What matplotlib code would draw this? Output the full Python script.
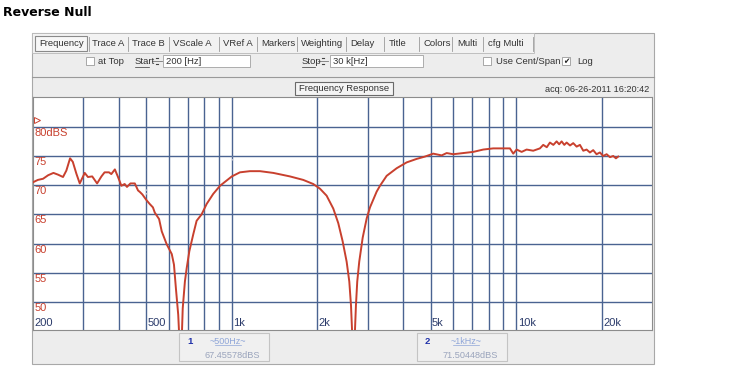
import matplotlib.pyplot as plt
from matplotlib.patches import Rectangle

# frequency response (Hz, dBS)
freq = [200, 208, 217, 226, 236, 245, 255, 262, 270, 276, 284, 292, 304, 312,
        323, 336, 348, 357, 370, 377, 388, 398, 409, 420, 428, 440, 456, 468,
        476, 485, 500, 514, 528, 536, 555, 567, 590, 615, 626, 636, 648, 655,
        660, 666, 672, 684, 694, 709, 732, 752, 783, 816, 860, 909, 959, 1000,
        1068, 1158, 1256, 1399, 1601, 1783, 1933, 2041, 2154, 2273, 2367, 2452,
        2533, 2588, 2624, 2645, 2677, 2709, 2731, 2760, 2805, 2884, 2979, 3060,
        3230, 3318, 3502, 3797, 4117, 4464, 4776, 5106, 5466, 5692, 6003, 6507,
        7059, 7653, 8297, 8998, 9499, 9757, 10028, 10443, 10874, 11470, 12108,
        12438, 12800, 13130, 13500, 13862, 14150, 14436, 14750, 15032, 15450,
        15856, 16300, 16738, 17200, 17670, 18150, 18638, 19150, 19680, 20200,
        20780, 21350, 21920, 22400, 22820]
level = [70.5, 70.9, 71.1, 71.7, 72.1, 71.8, 71.4, 72.5, 74.6, 74.0, 72.0, 70.3,
         72.1, 71.4, 71.5, 70.3, 71.5, 72.2, 72.2, 71.9, 72.7, 71.4, 69.9, 70.2,
         69.7, 70.3, 70.3, 69.1, 68.8, 68.4, 67.5, 66.8, 66.2, 65.3, 64.2, 62.1,
         59.9, 58.2, 56.4, 52.3, 47.8, 43.0, 36.0, 43.0, 48.9, 53.5, 55.8, 58.7,
         61.6, 63.9, 65.0, 66.8, 68.5, 69.9, 70.8, 71.5, 72.2, 72.4, 72.4, 72.1,
         71.5, 70.9, 70.2, 69.4, 68.2, 66.0, 63.5, 60.4, 56.9, 53.5, 49.4, 45.4,
         36.0, 45.0, 49.4, 53.5, 56.9, 61.0, 64.3, 66.2, 68.9, 69.9, 71.6, 72.9,
         73.9, 74.5, 74.9, 75.4, 75.1, 75.5, 75.3, 75.5, 75.7, 76.1, 76.3, 76.3,
         76.3, 75.4, 76.1, 75.7, 76.1, 75.9, 76.3, 76.9, 76.5, 77.3, 76.9, 77.5,
         77.0, 77.5, 76.9, 77.3, 76.8, 77.2, 76.6, 76.9, 75.9, 76.1, 75.6, 76.0,
         75.3, 75.6, 75.0, 75.3, 74.8, 75.0, 74.6, 74.9]

y_grid = [50, 55, 60, 65, 70, 75, 80]
y_labels = ['50', '55', '60', '65', '70', '75', '80dBS']
x_grid = [300, 400, 500, 600, 700, 800, 900, 1000, 2000, 3000, 4000, 5000,
          6000, 7000, 8000, 9000, 10000, 20000]
x_ticks = [200, 500, 1000, 2000, 5000, 10000, 20000]
x_labels = ['200', '500', '1k', '2k', '5k', '10k', '20k']

tabs = ['Trace A', 'Trace B', 'VScale A', 'VRef A', 'Markers', 'Weighting',
        'Delay', 'Title', 'Colors', 'Multi', 'cfg Multi']
tab_x = [92, 132, 173, 223, 261, 301, 350, 389, 424, 457, 488]
sep_x = [89, 128, 169, 219, 257, 297, 346, 384, 419, 452, 483, 533]

marker_ids = ['1', '2']
marker_freq = ['~500Hz~', '~1kHz~']
marker_vals = ['67.45578dBS', '71.50448dBS']

RED = '#c8402e'
GRID = '#4a6391'
FONT = 'Liberation Sans'

fig = plt.figure(figsize=(7.48, 3.83), dpi=100)

# pixel-coordinate layer for the window chrome
ui = fig.add_axes([0, 0, 1, 1])
ui.set_xlim(0, 748)
ui.set_ylim(383, 0)
ui.axis('off')

ui.text(3, 13, 'Reverse Null', fontsize=9, fontweight='bold', va='center',
        family='DejaVu Sans')

ui.add_patch(Rectangle((32, 33), 622, 331, facecolor='#ededed',
                       edgecolor='#a8a8a8', lw=0.8))
ui.add_patch(Rectangle((32, 33), 502, 20, facecolor='#f2f2f2',
                       edgecolor='#b8b8b8', lw=0.6))
ui.add_patch(Rectangle((35, 36), 52, 15, facecolor='#f7f7f7',
                       edgecolor='#8a8a8a', lw=0.8))
ui.text(39, 44, 'Frequency', fontsize=6.8, va='center', family=FONT, color='#333333')
for t, x in zip(tabs, tab_x):
    ui.text(x, 44, t, fontsize=6.8, va='center', family=FONT, color='#333333')
for x in sep_x:
    ui.plot([x, x], [37, 51], color='#9a9a9a', lw=0.6)

# second row of controls
ui.add_patch(Rectangle((86, 57), 8, 8, facecolor='white', edgecolor='#9a9a9a', lw=0.6))
ui.text(98, 62, 'at Top', fontsize=6.8, va='center', family=FONT, color='#333333')
ui.text(135, 62, 'Start', fontsize=6.8, va='center', family=FONT, color='#333333')
ui.plot([135, 149], [66.5, 66.5], color='#333333', lw=0.5)
ui.add_patch(Rectangle((163, 55), 87, 12, facecolor='white', edgecolor='#a0a0a0', lw=0.6))
ui.text(166, 61.5, '200 [Hz]', fontsize=6.8, va='center', family=FONT, color='#333333')
ui.text(302, 62, 'Stop', fontsize=6.8, va='center', family=FONT, color='#333333')
ui.plot([302, 315], [66.5, 66.5], color='#333333', lw=0.5)
for sx in [152, 318]:
    ui.plot([sx, sx + 10], [61, 61], color='#777777', lw=0.6)
    ui.plot([sx + 4, sx + 6], [58, 58], color='#444444', lw=0.8)
    ui.plot([sx + 4, sx + 6], [64, 64], color='#444444', lw=0.8)
ui.add_patch(Rectangle((330, 55), 93, 12, facecolor='white', edgecolor='#a0a0a0', lw=0.6))
ui.text(333, 61.5, '30 k[Hz]', fontsize=6.8, va='center', family=FONT, color='#333333')
ui.add_patch(Rectangle((483, 57), 8, 8, facecolor='white', edgecolor='#9a9a9a', lw=0.6))
ui.text(496, 62, 'Use Cent/Span', fontsize=6.8, va='center', family=FONT, color='#333333')
ui.add_patch(Rectangle((562, 57), 8, 8, facecolor='white', edgecolor='#9a9a9a', lw=0.6))
ui.text(566, 61.5, '\u2714', fontsize=5.5, ha='center', va='center',
        family='DejaVu Sans', color='#222222')
ui.text(577, 62, 'Log', fontsize=6.8, va='center', family=FONT, color='#333333')

ui.plot([32, 654], [77, 77], color='#9a9a9a', lw=0.8)
ui.add_patch(Rectangle((295, 82), 98, 13, facecolor='#f4f4f4',
                       edgecolor='#6a6a6a', lw=0.8))
ui.text(344, 88.5, 'Frequency Response', fontsize=6.8, ha='center', va='center',
        family=FONT, color='#333333')
ui.text(649, 89, 'acq: 06-26-2011 16:20:42', fontsize=6.6, ha='right',
        va='center', family=FONT, color='#333333')

# marker readout boxes under the plot
for mid, mf, mv, bx in zip(marker_ids, marker_freq, marker_vals, [179, 417]):
    ui.add_patch(Rectangle((bx, 333), 90, 28, facecolor='#f0f0f0',
                           edgecolor='#c4c4c4', lw=0.8))
    ui.text(bx + 8, 341, mid, fontsize=6.8, fontweight='bold', va='center',
            family=FONT, color='#2233aa')
    ui.text(bx + 49, 341, mf, fontsize=6.5, ha='center', va='center',
            family=FONT, color='#8fa6d8')
    ui.plot([bx + 36, bx + 62], [345, 345], color='#8fa6d8', lw=0.5)
    ui.text(bx + 53, 355, mv, fontsize=6.6, ha='center', va='center',
            family=FONT, color='#9aa4bc')

# the response plot
ax = fig.add_axes([33 / 748, (383 - 330) / 383, 619 / 748, 233 / 383])
ax.set_xscale('log')
ax.set_xlim(200, 30000)
ax.set_ylim(45.2, 85.1)
ax.set_facecolor('white')
ax.set_xticks([])
ax.set_yticks([])
ax.minorticks_off()
for s in ax.spines.values():
    s.set_color('#8c8c8c')
    s.set_linewidth(0.8)

for v in y_grid:
    ax.axhline(v, color=GRID, lw=1.0, zorder=1)
for f in x_grid:
    ax.axvline(f, color=GRID, lw=1.0, zorder=1)

for v, lab in zip(y_grid, y_labels):
    ax.annotate(lab, (200, v), xytext=(1, -0.8), textcoords='offset points',
                ha='left', va='top', fontsize=8, family=FONT, color=RED)
for f, lab in zip(x_ticks, x_labels):
    ax.annotate(lab, (f, 45.2), xytext=(1, 1.5), textcoords='offset points',
                ha='left', va='bottom', fontsize=8, family=FONT, color='#2a3a6a')

# reference marker and faint marker cursors
ax.plot([206], [81.2], marker='>', ms=5, mfc='none', mec=RED, mew=0.7,
        zorder=4)
ax.plot([500, 500], [68.5, 69.5], color='#c8cbd6', lw=1, ls=':', zorder=2)
ax.plot([1000, 1000], [74.3, 75.0], color='#c8cbd6', lw=1, ls=':', zorder=2)

ax.plot(freq, level, color=RED, lw=1.4, zorder=3)

fig.savefig('out.png', dpi=100)
